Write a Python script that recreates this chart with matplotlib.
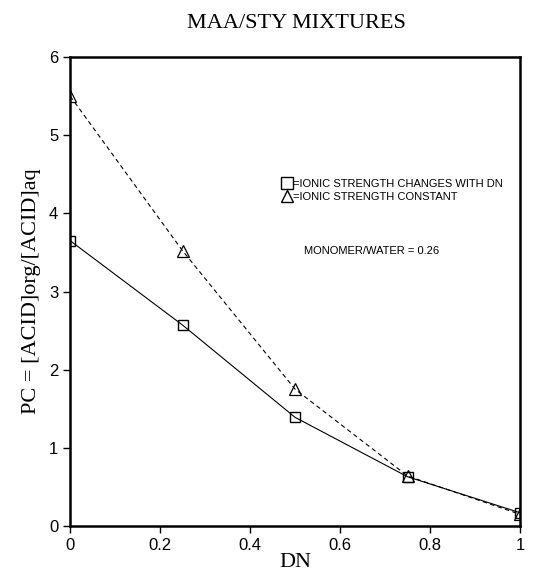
import matplotlib
matplotlib.use("Agg")
import matplotlib.pyplot as plt
from matplotlib.lines import Line2D

# data
dn = [0.0, 0.25, 0.5, 0.75, 1.0]
pc_changes = [3.65, 2.57, 1.39, 0.63, 0.17]
pc_constant = [5.50, 3.52, 1.75, 0.64, 0.15]
xticks = [0, 0.2, 0.4, 0.6, 0.8, 1]
xticklabels = ["0", "0.2", "0.4", "0.6", "0.8", "1"]
yticks = [0, 1, 2, 3, 4, 5, 6]

serif = "Liberation Serif"
sans = "Liberation Sans"

fig = plt.figure(figsize=(5.44, 5.79), dpi=100)
ax = fig.add_axes([0.129, 0.0915, 0.827, 0.81])

ax.plot(dn, pc_changes, color="black", lw=0.8, marker="s", ms=7,
        mfc="none", mec="black", mew=1.0)
ax.plot(dn, pc_constant, color="black", lw=0.8, ls=(0, (4, 3)), marker="^",
        ms=8, mfc="none", mec="black", mew=0.9)

ax.set_xlim(0, 1)
ax.set_ylim(0, 6)
ax.set_xticks(xticks)
ax.set_xticklabels(xticklabels, family=sans, fontsize=12)
ax.set_yticks(yticks)
ax.set_yticklabels([str(v) for v in yticks], family=sans, fontsize=12)
ax.tick_params(direction="out", length=5, width=1)
for s in ax.spines.values():
    s.set_linewidth(1.8)

ax.set_xlabel("DN", family=serif, fontsize=16, labelpad=0)
ax.set_ylabel("PC = [ACID]org/[ACID]aq", family=serif, fontsize=16, labelpad=6)
fig.text(0.545, 0.960, "MAA/STY MIXTURES", family=serif, fontsize=16,
         ha="center", va="center")

# legend drawn as markers with text
handles = [
    Line2D([], [], ls="none", marker="s", ms=9, mfc="white", mec="black"),
    Line2D([], [], ls="none", marker="^", ms=9, mfc="white", mec="black"),
]
labels = ["=IONIC STRENGTH CHANGES WITH DN", "=IONIC STRENGTH CONSTANT"]
ax.legend(handles, labels, loc="upper left", bbox_to_anchor=(0.46, 0.752),
          frameon=False, handlelength=0.8, handletextpad=0.1,
          labelspacing=0.25, borderpad=0, prop={"family": sans, "size": 8})

ax.text(0.52, 0.587, "MONOMER/WATER = 0.26", transform=ax.transAxes,
        family=sans, fontsize=8, va="center")

fig.savefig("out.png", dpi=100)
